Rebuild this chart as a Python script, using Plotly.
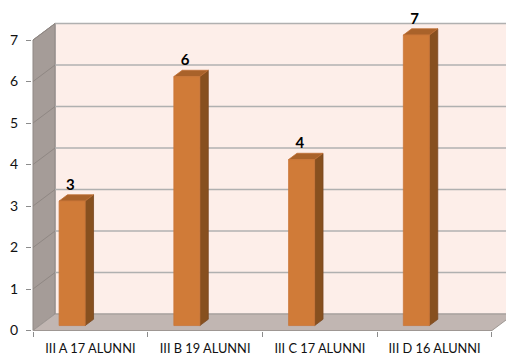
import plotly.graph_objects as go

categories = ["III A 17 ALUNNI", "III B 19 ALUNNI", "III C 17 ALUNNI", "III D 16 ALUNNI"]
values = [3, 6, 4, 7]
y_ticks = [0, 1, 2, 3, 4, 5, 6, 7]

W, H = 506, 358
PX_X = 114.5   # pixels per category
PX_Y = 41.5    # pixels per unit
DXU = 22 / PX_X   # depth offset of back wall (x units)
DYU = 16.5 / PX_Y  # depth offset of back wall (y units)
YMAX = 7

# bar geometry (in category / value units)
T0, T1 = 0.30, 0.68            # front/back depth fraction
BAR_L = -37.8 / PX_X           # front face left at depth 0, rel. to category center
BAR_W = 26 / PX_X

FRONT = "#d07b38"
SIDE = "#87501f"
TOP = "#a9622a"
EDGE = "#c9763a"

fig = go.Figure()
shapes = []

def poly(pts, fill, line="rgba(0,0,0,0)", width=0):
    path = "M " + " L ".join(f"{x},{y}" for x, y in pts) + " Z"
    shapes.append(dict(type="path", path=path, xref="x", yref="y",
                       fillcolor=fill, line=dict(color=line, width=width), layer="below"))

def seg(x0, y0, x1, y1, color, width):
    shapes.append(dict(type="line", x0=x0, y0=y0, x1=x1, y1=y1, xref="x", yref="y",
                       line=dict(color=color, width=width), layer="below"))

n = len(categories)
xl, xr = -0.5, n - 0.5
# back wall
poly([(xl + DXU, DYU), (xl + DXU, YMAX + DYU), (xr + DXU + 0.3, YMAX + DYU), (xr + DXU + 0.3, DYU)],
     "#fdeee9", "#a8a8a8", 1)
# left wall
poly([(xl, 0), (xl, YMAX), (xl + DXU, YMAX + DYU), (xl + DXU, DYU)], "#a59c98", "#8f8783", 1)
# floor
poly([(xl, 0), (xr, 0), (xr + DXU, DYU), (xl + DXU, DYU)], "#c1b6b2", "#9e9793", 1)

# gridlines on back and left walls
for k in y_ticks[1:]:
    seg(xl + DXU, k + DYU, xr + DXU + 0.3, k + DYU, "#b0b0b0", 1.6)
    seg(xl, k, xl + DXU, k + DYU, "#8f8783", 1)

# bars
for i, v in enumerate(values):
    fx0 = i + BAR_L + T0 * DXU
    fx1 = fx0 + BAR_W
    fy0 = T0 * DYU
    fy1 = v + T0 * DYU
    ddx = (T1 - T0) * DXU
    ddy = (T1 - T0) * DYU
    # side
    poly([(fx1, fy0), (fx1, fy1), (fx1 + ddx, fy1 + ddy), (fx1 + ddx, fy0 + ddy)], SIDE, "#7a4820", 0.8)
    # top
    poly([(fx0, fy1), (fx0 + ddx, fy1 + ddy), (fx1 + ddx, fy1 + ddy), (fx1, fy1)], TOP, "#c07035", 0.8)
    # front
    poly([(fx0, fy0), (fx0, fy1), (fx1, fy1), (fx1, fy0)], FRONT, EDGE, 0.8)

# value labels
fig.add_trace(go.Scatter(
    x=[i - 20 / PX_X for i in range(n)],
    y=[v + 0.48 for v in values],
    mode="text",
    text=[str(v) for v in values],
    textposition="middle center",
    textfont=dict(family="Lato, Carlito, sans-serif", size=15, color="#000000", weight="bold"),
    hoverinfo="skip",
    showlegend=False,
    cliponaxis=False,
))

fig.update_layout(
    width=W, height=H,
    margin=dict(l=32, r=0, t=0, b=27),
    paper_bgcolor="white",
    plot_bgcolor="white",
    shapes=shapes,
    showlegend=False,
    xaxis=dict(
        range=[-0.5 - 1 / PX_X, -0.5 + 473 / PX_X - 1 / PX_X],
        tickmode="array", tickvals=list(range(n)), ticktext=categories,
        ticks="", showgrid=False, zeroline=False, showline=False,
        tickfont=dict(family="Lato, Carlito, sans-serif", size=12.8, color="#111111"),
        ticklabelstandoff=8,
        minor=dict(ticks="outside", tickmode="array", tickvals=[k - 0.5 for k in range(n + 1)],
                   ticklen=5, tickcolor="#8c8c8c", tickwidth=1, showgrid=False),
        fixedrange=True,
    ),
    yaxis=dict(
        range=[-0.5 / PX_Y, 330.5 / PX_Y],
        tickmode="array", tickvals=y_ticks,
        ticks="outside", ticklen=5, tickcolor="#8c8c8c",
        showgrid=False, zeroline=False, showline=False,
        tickfont=dict(family="Lato, Carlito, sans-serif", size=14, color="#111111"),
        ticklabelstandoff=5,
        fixedrange=True,
    ),
)

fig.write_html("out.html")
